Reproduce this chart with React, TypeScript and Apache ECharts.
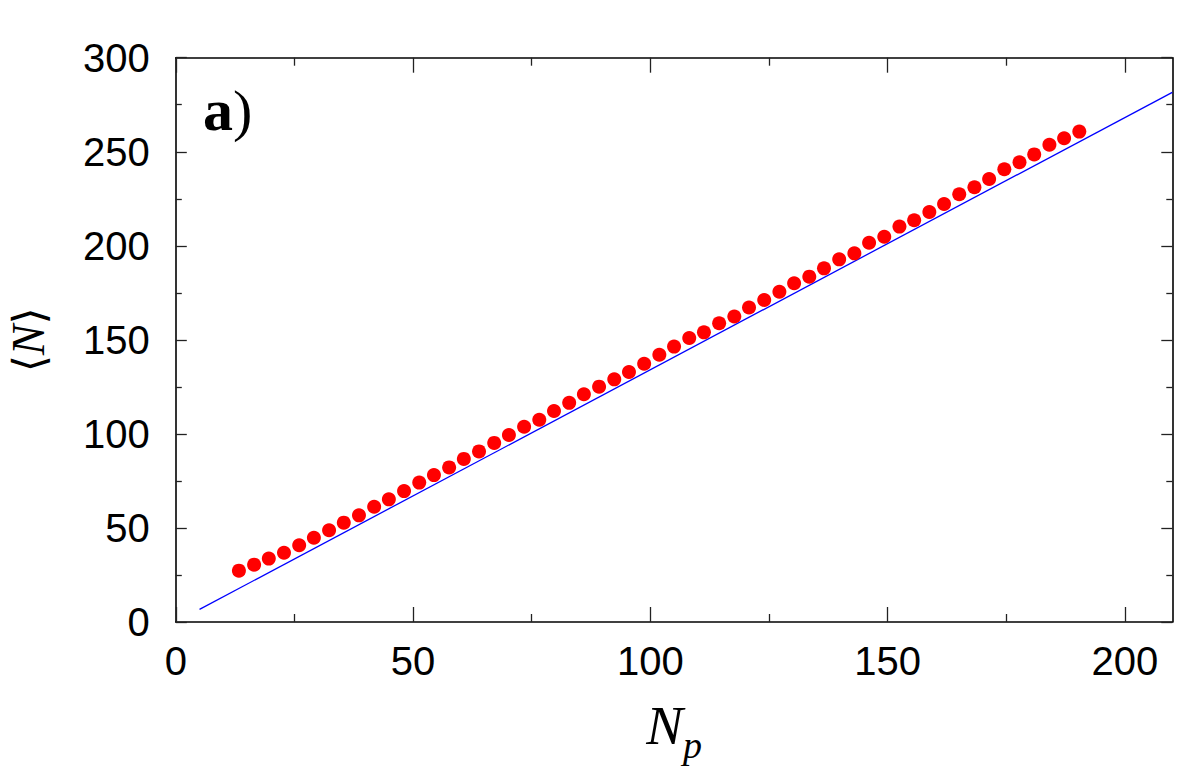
import React, { useEffect, useRef } from "react";
import * as echarts from "echarts";

// Red points: <N> versus Np
const npValues = [
  13.3, 16.5, 19.6, 22.8, 26.0, 29.1, 32.3, 35.4, 38.6, 41.8, 44.9, 48.1, 51.3, 54.4, 57.6,
  60.7, 63.9, 67.1, 70.2, 73.4, 76.6, 79.7, 82.9, 86.0, 89.2, 92.4, 95.5, 98.7, 101.9, 105.0,
  108.2, 111.3, 114.5, 117.7, 120.8, 124.0, 127.2, 130.3, 133.5, 136.6, 139.8, 143.0, 146.1,
  149.3, 152.5, 155.6, 158.8, 161.9, 165.1, 168.3, 171.4, 174.6, 177.8, 180.9, 184.1, 187.2, 190.4,
];
const meanN = [
  27.3, 30.5, 33.7, 36.8, 40.8, 44.8, 48.8, 52.8, 56.7, 61.3, 65.2, 69.6, 74.1, 78.1, 82.2,
  86.7, 90.7, 95.2, 99.4, 103.8, 107.5, 112.2, 116.5, 121.1, 125.1, 129.0, 132.9, 137.3, 142.1,
  146.4, 151.0, 154.0, 158.8, 162.4, 167.2, 171.2, 175.6, 180.1, 183.6, 188.0, 192.8, 196.0,
  201.6, 204.8, 210.2, 213.6, 218.0, 222.2, 227.4, 231.1, 235.5, 240.7, 244.4, 248.6, 253.7,
  257.2, 260.7,
];
// Blue reference line endpoints
const lineX = [5, 210];
const lineY = [6.7, 281.6];

const xMajorTicks = [0, 50, 100, 150, 200];
const xMinorTicks = [25, 75, 125, 175];

export default function App() {
  const ref = useRef<HTMLDivElement>(null);
  useEffect(() => {
    if (!ref.current) return;
    const chart = echarts.init(ref.current, null, { renderer: "svg" });
    const frame = { show: true, onZero: false, lineStyle: { color: "#000", width: 1.6 } };
    const noLine = { show: false, onZero: false };
    const tickStyle = { color: "#222", width: 1.3 };
    const labelFont = { fontFamily: "Liberation Sans", fontSize: 40, color: "#000" };
    const baseX = { type: "value", min: 0, max: 210, splitLine: { show: false } };
    chart.setOption({
      animation: false,
      backgroundColor: "#fff",
      grid: { left: 175.8, right: 13.7, top: 57.7, bottom: 151, containLabel: false, outerBoundsMode: "none" },
      xAxis: [
        {
          ...baseX,
          position: "bottom",
          axisLine: frame,
          axisTick: { inside: true, length: 15, customValues: xMajorTicks, lineStyle: tickStyle },
          axisLabel: { ...labelFont, margin: 19, customValues: xMajorTicks },
          name: "{n|N}{p|p}",
          nameLocation: "middle",
          nameGap: 76,
          nameTextStyle: {
            rich: {
              n: { fontFamily: "Liberation Serif", fontStyle: "italic", fontSize: 55, color: "#000", lineHeight: 55, verticalAlign: "top" },
              p: { fontFamily: "Liberation Serif", fontStyle: "italic", fontSize: 38, color: "#000", lineHeight: 38, padding: [28, 0, 0, 0], verticalAlign: "top" },
            },
          },
        },
        {
          ...baseX,
          position: "top",
          axisLine: frame,
          axisTick: { inside: true, length: 15, customValues: xMajorTicks, lineStyle: tickStyle },
          axisLabel: { show: false },
        },
        {
          ...baseX,
          position: "bottom",
          axisLine: noLine,
          axisTick: { inside: true, length: 8, customValues: xMinorTicks, lineStyle: tickStyle },
          axisLabel: { show: false },
        },
        {
          ...baseX,
          position: "top",
          axisLine: noLine,
          axisTick: { inside: true, length: 8, customValues: xMinorTicks, lineStyle: tickStyle },
          axisLabel: { show: false },
        },
      ],
      yAxis: [
        {
          type: "value",
          min: 0,
          max: 300,
          interval: 50,
          position: "left",
          splitLine: { show: false },
          axisLine: frame,
          axisTick: { inside: true, length: 11, lineStyle: tickStyle },
          minorTick: { show: true, splitNumber: 2, length: 6, lineStyle: tickStyle },
          axisLabel: { ...labelFont, margin: 26 },
          name: "{a|⟨}{b|N}{a|⟩}",
          nameLocation: "middle",
          nameRotate: 90,
          nameGap: 124,
          nameTextStyle: {
            rich: {
              a: { fontFamily: "DejaVu Serif", fontSize: 44, color: "#000" },
              b: { fontFamily: "Liberation Serif", fontStyle: "italic", fontSize: 46, color: "#000" },
            },
          },
        },
        {
          type: "value",
          min: 0,
          max: 300,
          interval: 50,
          position: "right",
          splitLine: { show: false },
          axisLine: frame,
          axisTick: { inside: true, length: 11, lineStyle: tickStyle },
          minorTick: { show: true, splitNumber: 2, length: 6, lineStyle: tickStyle },
          axisLabel: { show: false },
        },
      ],
      graphic: [
        {
          type: "text",
          left: 203,
          top: 80,
          style: {
            text: "{a|a}{b|)}",
            rich: {
              a: { fontFamily: "Liberation Serif", fontWeight: "bold", fontSize: 60, fill: "#000" },
              b: { fontFamily: "Liberation Serif", fontSize: 58, fill: "#000" },
            },
          },
        },
      ],
      series: [
        {
          type: "line",
          xAxisIndex: 0,
          yAxisIndex: 0,
          data: lineX.map((x, i) => [x, lineY[i]]),
          symbol: "none",
          lineStyle: { color: "#0000ff", width: 1.3 },
          z: 1,
        },
        {
          type: "scatter",
          xAxisIndex: 0,
          yAxisIndex: 0,
          data: npValues.map((x, i) => [x, meanN[i]]),
          symbol: "circle",
          symbolSize: 14,
          itemStyle: { color: "#ff0000", opacity: 1 },
          z: 2,
        },
      ],
    });
    return () => chart.dispose();
  }, []);
  return (
    <div
      ref={ref}
      style={{ position: "fixed", left: 0, top: 0, width: 1186, height: 773, background: "#fff" }}
    />
  );
}
